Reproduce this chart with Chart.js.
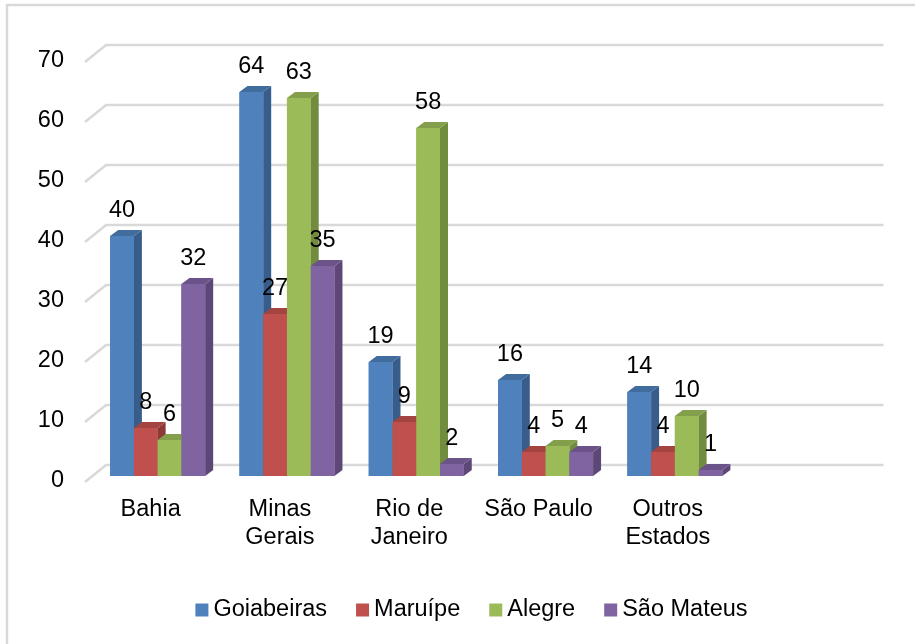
<!DOCTYPE html>
<html>
<head>
<meta charset="utf-8">
<script src="https://cdn.jsdelivr.net/npm/chart.js@4.4.0/dist/chart.umd.min.js"></script>
<style>
  html, body { margin: 0; background: #fff; }
</style>
</head>
<body>
<canvas id="chart" width="915" height="644"></canvas>
<script>
// data
const categories = [['Bahia'], ['Minas', 'Gerais'], ['Rio de', 'Janeiro'], ['São Paulo'], ['Outros', 'Estados']];
const seriesNames = ['Goiabeiras', 'Maruípe', 'Alegre', 'São Mateus'];
const goiabeiras = [40, 64, 19, 16, 14];
const maruipe = [8, 27, 9, 4, 4];
const alegre = [6, 63, 58, 5, 10];
const saoMateus = [32, 35, 2, 4, 1];
const yTicks = [0, 10, 20, 30, 40, 50, 60, 70];

const frontColors = ['#4F81BD', '#C0504D', '#9BBB59', '#8064A2'];
const sideColors = ['#385D8A', '#8C3A38', '#718B3F', '#5C4776'];
const topColors = ['#416C9E', '#A34441', '#839F4B', '#6B5389'];

const FAMILY = '"Liberation Sans", Arial, sans-serif';
const SIZE = 23.5;
const FONT = SIZE + 'px ' + FAMILY;
const DX = 8, DY = -6; // bar depth

const threeD = {
  id: 'threeD',
  beforeDraw(chart) {
    const ctx = chart.ctx;
    ctx.save();
    ctx.fillStyle = '#fff';
    ctx.fillRect(0, 0, chart.width, chart.height);
    ctx.strokeStyle = '#d9d9d9';
    ctx.lineWidth = 2.5;
    ctx.beginPath();
    ctx.moveTo(7, chart.height);
    ctx.lineTo(7, 5);
    ctx.lineTo(chart.width, 5);
    ctx.stroke();
    ctx.restore();
  },
  beforeDatasetsDraw(chart) {
    const ctx = chart.ctx, y = chart.scales.y, area = chart.chartArea;
    ctx.save();
    ctx.strokeStyle = '#d9d9d9';
    ctx.lineWidth = 2.5;
    yTicks.forEach(v => {
      const py = y.getPixelForValue(v);
      ctx.beginPath();
      ctx.moveTo(area.left - 8, py + 6);
      ctx.lineTo(area.left + 13, py - 11);
      ctx.lineTo(area.right + 144, py - 11);
      ctx.stroke();
    });
    ctx.restore();
  },
  afterDatasetsDraw(chart) {
    const ctx = chart.ctx;
    ctx.save();
    chart.data.datasets.forEach((ds, i) => {
      chart.getDatasetMeta(i).data.forEach(bar => {
        const p = bar.getProps(['x', 'y', 'base', 'width'], true);
        const l = p.x - p.width / 2, r = p.x + p.width / 2, t = p.y, b = p.base;
        ctx.fillStyle = sideColors[i];
        ctx.beginPath();
        ctx.moveTo(r, t); ctx.lineTo(r + DX, t + DY); ctx.lineTo(r + DX, b + DY); ctx.lineTo(r, b);
        ctx.closePath(); ctx.fill();
        ctx.fillStyle = topColors[i];
        ctx.beginPath();
        ctx.moveTo(l, t); ctx.lineTo(l + DX, t + DY); ctx.lineTo(r + DX, t + DY); ctx.lineTo(r, t);
        ctx.closePath(); ctx.fill();
        ctx.fillStyle = frontColors[i];
        ctx.fillRect(l, t, r - l, b - t);
      });
    });
    // value labels
    ctx.font = FONT;
    ctx.fillStyle = '#000';
    ctx.textAlign = 'center';
    ctx.textBaseline = 'middle';
    chart.data.datasets.forEach((ds, i) => {
      chart.getDatasetMeta(i).data.forEach((bar, j) => {
        const p = bar.getProps(['x', 'y'], true);
        ctx.fillText(String(ds.data[j]), p.x, p.y - 25);
      });
    });
    ctx.restore();
  },
  afterDraw(chart) {
    // legend
    const ctx = chart.ctx;
    ctx.save();
    ctx.font = FONT;
    ctx.textBaseline = 'middle';
    ctx.textAlign = 'left';
    const box = 13, gap = 5, spacing = 29;
    const widths = chart.data.datasets.map(ds => ctx.measureText(ds.label).width);
    const total = widths.reduce((a, w) => a + box + gap + w, 0) + spacing * (widths.length - 1);
    let x = chart.width / 2 + 14 - total / 2;
    const y = 610;
    chart.data.datasets.forEach((ds, i) => {
      ctx.fillStyle = frontColors[i];
      ctx.fillRect(x, y - box / 2, box, box);
      ctx.fillStyle = '#000';
      ctx.fillText(ds.label, x + box + gap, y);
      x += box + gap + widths[i] + spacing;
    });
    ctx.restore();
  }
};

const seriesValues = [goiabeiras, maruipe, alegre, saoMateus];

new Chart(document.getElementById('chart'), {
  type: 'bar',
  data: {
    labels: categories,
    datasets: seriesNames.map((name, i) => ({
      label: name,
      data: seriesValues[i],
      backgroundColor: frontColors[i],
      borderWidth: 0,
      categoryPercentage: 0.735,
      barPercentage: 1.0
    }))
  },
  options: {
    responsive: false,
    devicePixelRatio: 1,
    animation: false,
    layout: { padding: { left: 0, right: 175.5, top: 56, bottom: 88 } },
    plugins: {
      legend: { display: false },
      tooltip: { enabled: false }
    },
    scales: {
      x: {
        grid: { display: false, drawTicks: false },
        border: { display: false },
        ticks: {
          font: { family: FAMILY, size: SIZE },
          color: '#000',
          padding: 19,
          labelOffset: -7,
          maxRotation: 0,
          autoSkip: false
        },
        afterFit(scale) { scale.height = 80; }
      },
      y: {
        min: 0,
        max: 70,
        grid: { display: false, drawTicks: false },
        border: { display: false },
        ticks: {
          stepSize: 10,
          font: { family: FAMILY, size: SIZE },
          color: '#000',
          padding: 29,
          labelOffset: 5
        },
        afterFit(scale) { scale.width = 93; }
      }
    }
  },
  plugins: [threeD]
});
</script>
</body>
</html>
